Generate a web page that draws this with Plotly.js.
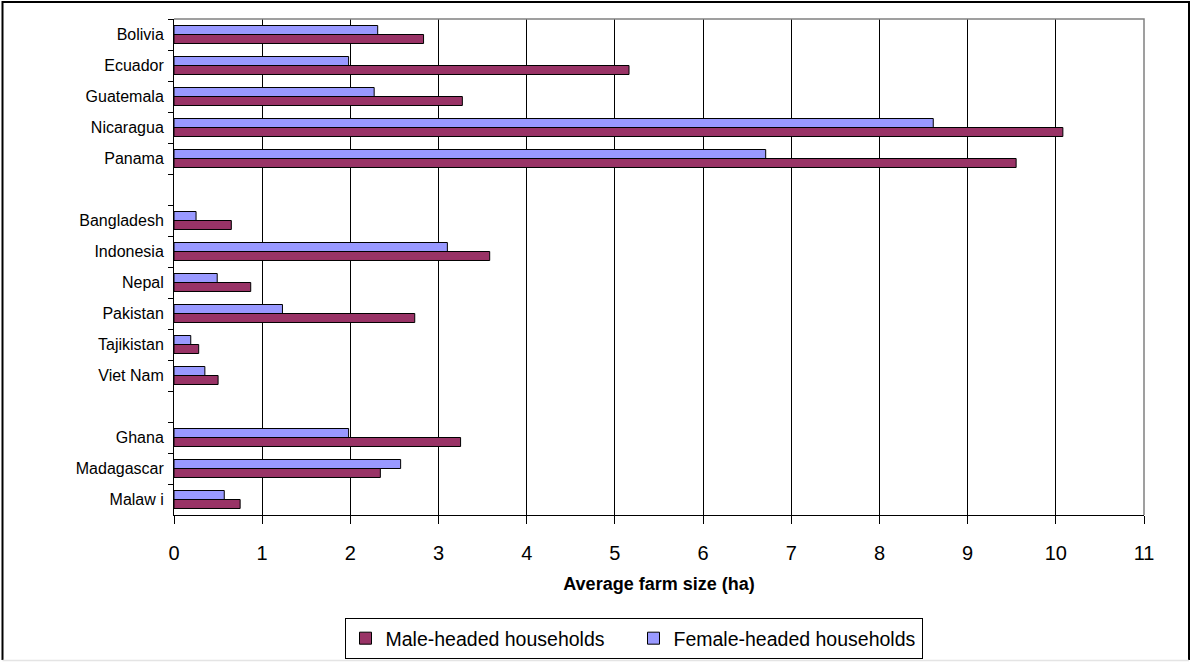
<!DOCTYPE html>
<html>
<head>
<meta charset="utf-8">
<script src="https://cdn.plot.ly/plotly-3.0.1.min.js"></script>
<style>
  html, body { margin: 0; padding: 0; background: #ffffff; }
  #chart { width: 1195px; height: 662px; }
</style>
</head>
<body>
<div id="chart"></div>
<script>
// Countries, top to bottom; the blank entries separate the three regional groups
const countries = [
  "Bolivia", "Ecuador", "Guatemala", "Nicaragua", "Panama",
  " ",
  "Bangladesh", "Indonesia", "Nepal", "Pakistan", "Tajikistan", "Viet Nam",
  "  ",
  "Ghana", "Madagascar", "Malaw i"
];

// Average farm size (ha)
const maleHeaded = [
  2.83, 5.16, 3.27, 10.08, 9.55,
  null,
  0.65, 3.58, 0.87, 2.73, 0.28, 0.50,
  null,
  3.25, 2.34, 0.75
];
const femaleHeaded = [
  2.31, 1.98, 2.27, 8.61, 6.71,
  null,
  0.25, 3.10, 0.49, 1.23, 0.19, 0.35,
  null,
  1.98, 2.57, 0.57
];

const xTicks = [0, 1, 2, 3, 4, 5, 6, 7, 8, 9, 10, 11];

const fontFamily = "'Liberation Sans', Arial, sans-serif";

const traces = [
  {
    type: "bar",
    orientation: "h",
    name: "Female-headed households",
    y: countries,
    x: femaleHeaded,
    marker: { color: "#9999FF", line: { color: "#000000", width: 1 } },
    legendrank: 2,
    hoverinfo: "x+y+name"
  },
  {
    type: "bar",
    orientation: "h",
    name: "Male-headed households",
    y: countries,
    x: maleHeaded,
    marker: { color: "#993366", line: { color: "#000000", width: 1 } },
    legendrank: 1,
    hoverinfo: "x+y+name"
  }
];

// plot area in pixels: left 174, right 1144, top 19, bottom 515
const L = 174, R = 1144, T = 19, B = 515, W = 1195, H = 662;
const px = v => (v - L) / (R - L);
const py = v => (B - v) / (B - T);

const layout = {
  width: W,
  height: H,
  margin: { l: L, r: W - R, t: T, b: H - B, pad: 0, autoexpand: false },
  paper_bgcolor: "#ffffff",
  plot_bgcolor: "#ffffff",
  barmode: "group",
  bargap: 0.42,
  bargroupgap: 0,
  showlegend: true,
  font: { family: fontFamily, color: "#000000" },
  xaxis: {
    range: [0, 11],
    tickvals: xTicks,
    ticktext: xTicks.map(String),
    showgrid: true,
    gridcolor: "#000000",
    gridwidth: 1,
    zeroline: false,
    showline: true,
    linecolor: "#000000",
    linewidth: 1,
    ticks: "outside",
    ticklen: 8,
    tickcolor: "#000000",
    tickfont: { size: 20, family: fontFamily, color: "#000000" },
    ticklabelstandoff: 12,
    title: {
      text: "Average farm size (ha)",
      font: { size: 18, family: fontFamily, color: "#000000", weight: "bold" },
      standoff: 14
    },
    fixedrange: true
  },
  yaxis: {
    type: "category",
    categoryorder: "array",
    categoryarray: countries,
    autorange: "reversed",
    showgrid: false,
    zeroline: false,
    showline: true,
    linecolor: "#000000",
    linewidth: 1,
    ticks: "outside",
    tickson: "boundaries",
    ticklen: 5,
    tickcolor: "#000000",
    tickfont: { size: 16, family: fontFamily, color: "#000000" },
    ticklabelstandoff: 6,
    fixedrange: true
  },
  legend: {
    orientation: "h",
    xref: "container",
    yref: "container",
    x: 633.5 / W,
    xanchor: "center",
    y: 1 - 618 / H,
    yanchor: "top",
    bordercolor: "#000000",
    borderwidth: 1,
    bgcolor: "#ffffff",
    entrywidth: 243,
    entrywidthmode: "pixels",
    font: { size: 19.5, family: fontFamily, color: "#000000" },
    itemclick: false,
    itemdoubleclick: false
  },
  shapes: [
    // plot-area frame on the top and right sides
    {
      type: "path", xref: "paper", yref: "paper", layer: "above",
      path: "M 0 1 L 1 1 L 1 0",
      line: { color: "#808080", width: 1.5 }
    },
    // outer chart border
    {
      type: "path", xref: "paper", yref: "paper", layer: "above",
      path: "M " + px(2.5) + " " + py(660) + " L " + px(2.5) + " " + py(2) +
            " L " + px(1189) + " " + py(2) + " L " + px(1189) + " " + py(660),
      line: { color: "#000000", width: 2 }
    },
    {
      type: "line", xref: "paper", yref: "paper", layer: "above",
      x0: px(2.5), x1: px(1189), y0: py(660.5), y1: py(660.5),
      line: { color: "#e4e4e4", width: 1.5 }
    }
  ]
};

Plotly.newPlot("chart", traces, layout, { displayModeBar: false, staticPlot: true });
</script>
</body>
</html>
